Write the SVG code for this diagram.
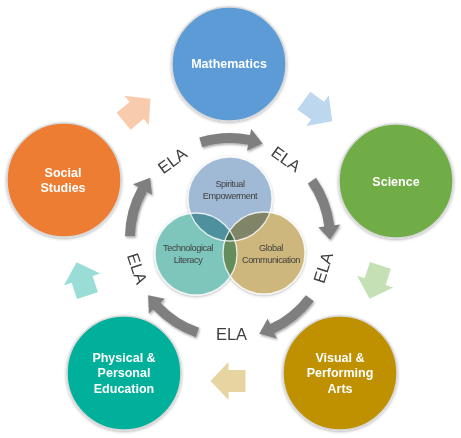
<svg xmlns="http://www.w3.org/2000/svg" xmlns:xlink="http://www.w3.org/1999/xlink" width="461" height="438" viewBox="0 0 461 438">
<style>
.outer{stroke:#D9D9D9;stroke-width:1.5;filter:url(#sh)}
.otext{font-family:"Liberation Sans",Arial,sans-serif;font-weight:bold;font-size:12.5px;fill:#fff;text-anchor:middle}
.itext{font-family:"Liberation Sans",Arial,sans-serif;font-size:9.2px;letter-spacing:-0.45px;fill:#404040;text-anchor:middle}
.ela{font-family:"Liberation Sans",Arial,sans-serif;font-size:16.5px;fill:#404040;text-anchor:middle;dominant-baseline:central}
.inner{mix-blend-mode:multiply}
.iring{fill:none;stroke:#fff;stroke-width:1.3;stroke-opacity:0.8}
.arc{fill:#7F7F7F;filter:url(#ash)}
</style>
<defs>
<filter id="sh" x="-20%" y="-20%" width="140%" height="140%">
<feDropShadow dx="0" dy="1" stdDeviation="1.5" flood-color="#000" flood-opacity="0.3"/>
</filter>
<filter id="ash" x="-20%" y="-20%" width="140%" height="140%">
<feDropShadow dx="1" dy="1.5" stdDeviation="1.2" flood-color="#000" flood-opacity="0.35"/>
</filter>
<path id="arcArrow" d="M -32.45 -99.86 A 105 105 0 0 1 18.23 -103.41 L 19.28 -109.31 L 30.90 -95.11 L 15.46 -87.65 L 16.50 -93.56 A 95 95 0 0 0 -29.36 -90.35 Z"/>
<polygon id="blk" points="17.5,0 -0.5,-19 -0.5,-11 -17.5,-11 -17.5,11 -0.5,11 -0.5,19"/>
</defs>
<rect width="461" height="438" fill="#fff"/>

<g id="connectors">
<g id="ring-arrows" class="arc">
<use xlink:href="#arcArrow" transform="translate(230,238) rotate(1)"/>
<use xlink:href="#arcArrow" transform="translate(230,238) rotate(73)"/>
<use xlink:href="#arcArrow" transform="translate(230,238) rotate(145)"/>
<use xlink:href="#arcArrow" transform="translate(230,238) rotate(217)"/>
<use xlink:href="#arcArrow" transform="translate(230,238) rotate(289)"/>
</g>
<g id="block-arrows">
<use xlink:href="#blk" fill="#F8CBAD" transform="translate(137,110) rotate(-40)"/>
<use xlink:href="#blk" fill="#BDD7EE" transform="translate(318,111) rotate(36)"/>
<use xlink:href="#blk" fill="#C5E0B4" transform="translate(375,282) rotate(108)"/>
<use xlink:href="#blk" fill="#E6D5A1" transform="translate(228,381) rotate(180)"/>
<use xlink:href="#blk" fill="#9ADDD6" transform="translate(82,279) rotate(-108)"/>
</g>
<g id="ela-labels">
<text class="ela" transform="translate(286.3,159) rotate(35.5)">ELA</text>
<text class="ela" transform="translate(323,267.5) rotate(-72.5)">ELA</text>
<text class="ela" transform="translate(231.5,334)">ELA</text>
<text class="ela" transform="translate(137.5,268.5) rotate(71.5)">ELA</text>
<text class="ela" transform="translate(172.3,160.5) rotate(-36.5)">ELA</text>
</g>
</g>

<g id="mathematics">
<circle class="outer" cx="229" cy="64" r="57" fill="#5B9BD5"/>
<text class="otext" x="229" y="68">Mathematics</text>
</g>
<g id="science">
<circle class="outer" cx="396" cy="181" r="57" fill="#70AD47"/>
<text class="otext" x="396" y="185.5">Science</text>
</g>
<g id="visual-performing-arts">
<circle class="outer" cx="340" cy="373" r="57" fill="#BF9000"/>
<text class="otext" x="340" y="361.5">Visual &amp;</text>
<text class="otext" x="340" y="377">Performing</text>
<text class="otext" x="340" y="392.5">Arts</text>
</g>
<g id="physical-personal-education">
<circle class="outer" cx="124" cy="373" r="57" fill="#00B09B"/>
<text class="otext" x="124" y="361.5">Physical &amp;</text>
<text class="otext" x="124" y="377">Personal</text>
<text class="otext" x="124" y="392.5">Education</text>
</g>
<g id="social-studies">
<circle class="outer" cx="64" cy="180" r="57" fill="#ED7D31"/>
<text class="otext" x="63" y="176.5">Social</text>
<text class="otext" x="63" y="192">Studies</text>
</g>

<g id="inner-venn" filter="url(#sh)">
<g id="spiritual-empowerment">
<circle class="inner" cx="230" cy="199" r="42" fill="#A0BAD6"/>
</g>
<g id="technological-literacy">
<circle class="inner" cx="196" cy="254" r="41" fill="#7EC5BC"/>
</g>
<g id="global-communication">
<circle class="inner" cx="264" cy="253" r="41" fill="#CDB77C"/>
</g>
<circle class="iring" cx="230" cy="199" r="42"/>
<circle class="iring" cx="196" cy="254" r="41"/>
<circle class="iring" cx="264" cy="253" r="41"/>
</g>
<g id="inner-labels">
<text class="itext" x="230" y="186.5">Spiritual</text>
<text class="itext" x="230" y="198.5">Empowerment</text>
<text class="itext" x="188" y="250.5">Technological</text>
<text class="itext" x="188" y="263">Literacy</text>
<text class="itext" x="271" y="250.5">Global</text>
<text class="itext" x="271" y="263">Communication</text>
</g>
</svg>
